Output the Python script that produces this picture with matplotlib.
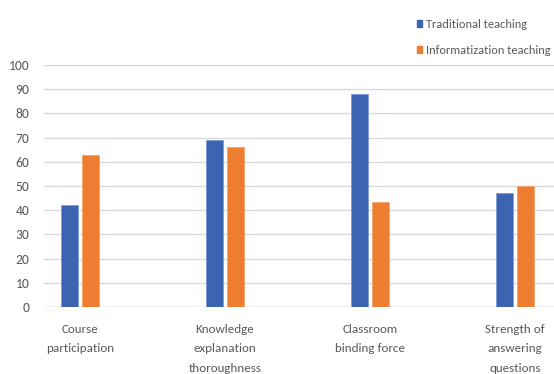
import matplotlib.pyplot as plt
import numpy as np
from matplotlib.patches import Patch

categories = ["Course\nparticipation", "Knowledge\nexplanation\nthoroughness",
              "Classroom\nbinding force", "Strength of\nanswering\nquestions"]
traditional = [42, 69, 88, 47]
informatization = [63, 66, 43.5, 50]
series_names = ["Traditional teaching", "Informatization teaching"]

blue = "#3C64B1"
orange = "#ED7D31"
txt = "#595959"

plt.rcParams['font.family'] = ['Carlito', 'Liberation Sans', 'DejaVu Sans']

fig = plt.figure(figsize=(5.54, 3.74), dpi=100)
ax = fig.add_axes([44 / 554, 1 - 307 / 374, 1 - 44 / 554, (307 - 65) / 374])

x = np.arange(len(categories))
w = 0.118
ax.bar(x - 0.072, traditional, w, color=blue, edgecolor="#7f9ad6", linewidth=0.6, zorder=3)
ax.bar(x + 0.072, informatization, w, color=orange, edgecolor="#f5a46e", linewidth=0.6, zorder=3)

ax.set_xlim(-0.25, 3.27)
ax.set_ylim(0, 100)
ax.set_yticks(range(0, 101, 10))
ax.yaxis.grid(True, color="#d9d9d9", linewidth=1, zorder=0)
ax.set_xticks(x)
ax.set_xticklabels(categories, linespacing=1.95, fontsize=9.4, color=txt)
ax.tick_params(axis="x", length=0, pad=12)
ax.tick_params(axis="y", length=0, pad=10.5, labelsize=9.8, labelcolor=txt)
for s in ax.spines.values():
    s.set_visible(False)
ax.axhline(0, color="#d9d9d9", linewidth=1, zorder=1)

handles = [Patch(color=blue), Patch(color=orange)]
fig.legend(handles, series_names, loc="upper left", bbox_to_anchor=(411 / 554, 1 - 13 / 374),
           frameon=False, borderpad=0, fontsize=8.9, labelcolor=txt, handlelength=0.38,
           handleheight=0.5, handletextpad=0.3, labelspacing=1.2)

fig.savefig("out.png", dpi=100)
